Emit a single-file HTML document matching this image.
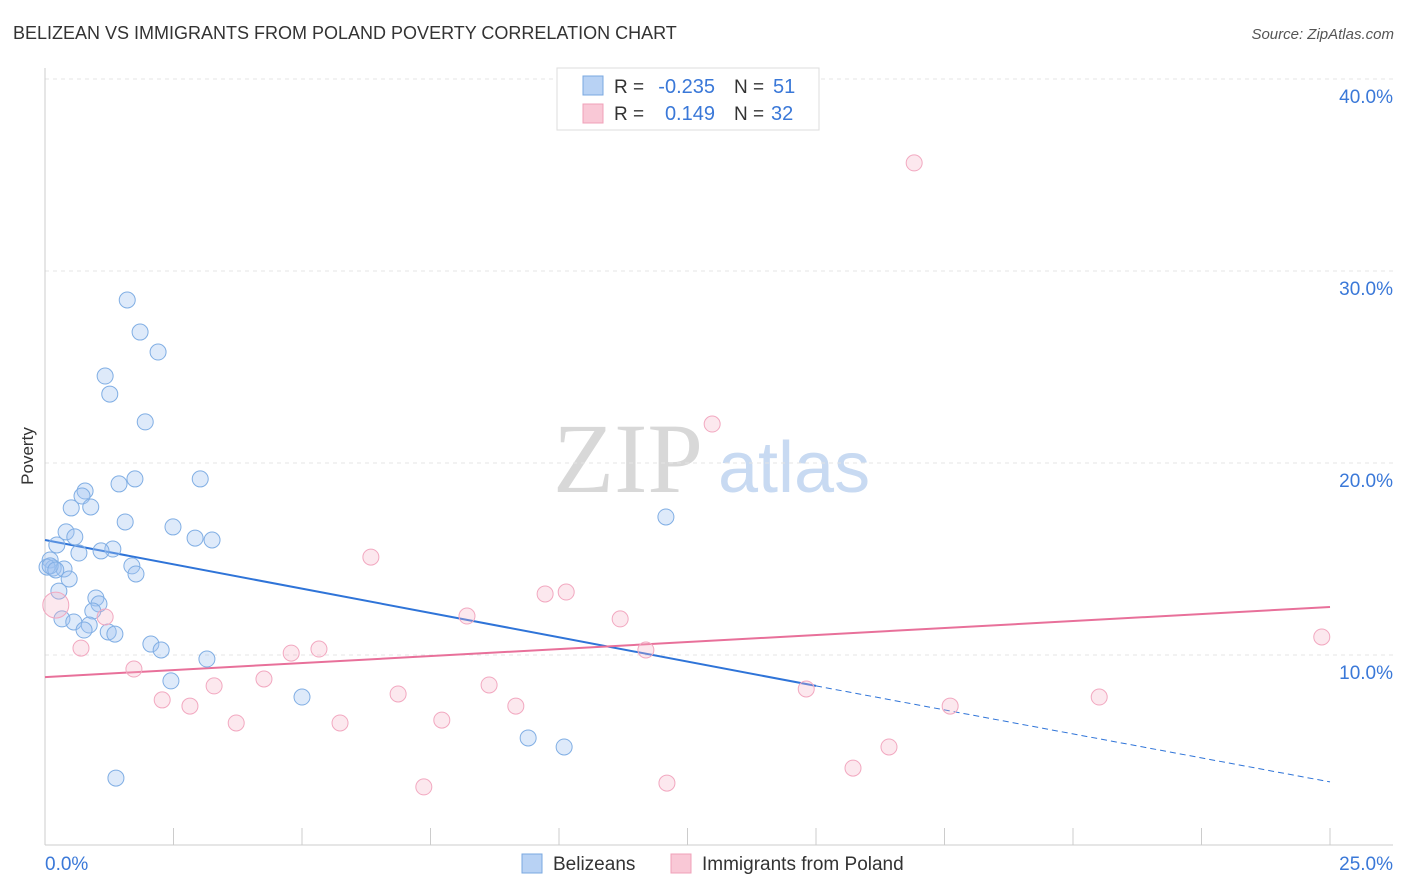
<!DOCTYPE html>
<html><head><meta charset="utf-8">
<style>
body{margin:0;background:#fff;font-family:"Liberation Sans",sans-serif;}
svg{display:block}
</style></head>
<body>
<svg id="chart" width="1406" height="892" viewBox="0 0 1406 892" xmlns="http://www.w3.org/2000/svg">
<text x="13" y="39" font-size="18" fill="#333">BELIZEAN VS IMMIGRANTS FROM POLAND POVERTY CORRELATION CHART</text>
<text x="1394" y="39" font-size="15" fill="#555" font-style="italic" text-anchor="end">Source: ZipAtlas.com</text>
<g>
<text x="553" y="492" font-family="Liberation Serif,serif" font-size="100" fill="#d8d8d8">ZIP</text>
<text x="718" y="492" font-size="72" fill="#c8daf2">atlas</text>
</g>
<g id="grid"></g>
<g id="axes"></g>
<text transform="translate(33,456) rotate(-90)" font-size="17" fill="#333" text-anchor="middle">Poverty</text>
<g id="lines"></g>
<g id="pts"></g>
<g>
<rect x="557" y="68" width="262" height="62" fill="#fff" stroke="#ddd"/>
<rect x="583" y="76" width="20" height="19" fill="#b8d2f4" stroke="#7aa8e0"/>
<rect x="583" y="104" width="20" height="19" fill="#f9c8d6" stroke="#f0a0b8"/>
<text x="614" y="93" font-size="19" fill="#333">R =</text>
<text x="715" y="93" font-size="20" fill="#3a78d8" text-anchor="end">-0.235</text>
<text x="734" y="93" font-size="19" fill="#333">N =</text>
<text x="773" y="93" font-size="20" fill="#3a78d8">51</text>
<text x="614" y="120" font-size="19" fill="#333">R =</text>
<text x="715" y="120" font-size="20" fill="#3a78d8" text-anchor="end">0.149</text>
<text x="734" y="120" font-size="19" fill="#333">N =</text>
<text x="771" y="120" font-size="20" fill="#3a78d8">32</text>
</g>
<g>
<rect x="522" y="854" width="20" height="19" fill="#b8d2f4" stroke="#7aa8e0"/>
<text x="553" y="870" font-size="19" fill="#333">Belizeans</text>
<rect x="671" y="854" width="20" height="19" fill="#f9c8d6" stroke="#f0a0b8"/>
<text x="702" y="870" font-size="19" fill="#333">Immigrants from Poland</text>
</g>
</svg>
<script>
const blueX=[1.60,1.85,2.20,1.17,1.26,1.95,3.02,1.75,1.44,0.78,0.72,0.51,0.89,1.56,2.49,0.41,0.58,2.92,3.25,0.23,1.32,1.09,0.66,0.10,1.69,0.16,0.04,0.37,1.77,0.47,0.27,0.99,1.05,0.93,0.33,0.56,0.86,0.76,1.23,1.36,2.06,2.26,3.15,2.45,5.00,12.08,9.40,10.10,1.38,0.10,0.21];
const blueY=[28.49,26.82,25.78,24.53,23.59,22.14,19.17,19.17,18.91,18.54,18.28,17.66,17.71,16.93,16.67,16.41,16.15,16.09,15.99,15.73,15.52,15.42,15.31,14.95,14.64,14.53,14.58,14.48,14.22,13.96,13.33,12.97,12.66,12.29,11.88,11.72,11.56,11.30,11.20,11.09,10.57,10.26,9.79,8.65,7.81,17.19,5.68,5.21,3.59,14.64,14.43];
const pinkX=[16.91,12.98,6.34,10.14,9.73,8.21,11.19,1.17,0.21,0.70,11.69,5.33,4.79,1.73,4.26,3.29,8.64,24.84,6.87,2.28,2.82,9.16,14.81,17.61,20.51,3.72,5.74,7.72,16.42,15.72,12.10,7.37];
const pinkY=[35.63,22.03,15.10,13.28,13.18,12.03,11.88,11.98,12.60,10.36,10.26,10.31,10.10,9.27,8.75,8.39,8.44,10.94,7.97,7.66,7.34,7.34,8.23,7.34,7.81,6.46,6.46,6.61,5.21,4.11,3.33,3.13];
const blueLine=[15.99,8.39,3.39]; // y at x=0, 15, 25
const pinkLine=[8.85,12.50];      // y at x=0, 25
const yTicks=[10,20,30,40];
const yTickLabels=["10.0%","20.0%","30.0%","40.0%"];
const xTicks=[0,2.5,5,7.5,10,12.5,15,17.5,20,22.5,25];
const NS="http://www.w3.org/2000/svg";
const xs=v=>45+v*51.4, ys=v=>847-v*19.2;
function mk(tag,attrs,parent){const e=document.createElementNS(NS,tag);for(const k in attrs)e.setAttribute(k,attrs[k]);parent.appendChild(e);return e;}
const grid=document.getElementById('grid'),axes=document.getElementById('axes');
yTicks.forEach((t,i)=>{
 const l=mk('line',{x1:45,x2:1393,y1:ys(t),y2:ys(t),stroke:'#e4e4e4','stroke-dasharray':'4,4'},grid);
 
 
 const tx=mk('text',{x:1393,y:ys(t)+24,'font-size':19,fill:'#3a78d8','text-anchor':'end'},axes);
 tx.textContent=yTickLabels[i];
 
 
});
mk('line',{x1:45,x2:45,y1:68,y2:845,stroke:'#ccc'},axes);
mk('line',{x1:45,x2:1393,y1:845,y2:845,stroke:'#ccc'},axes);
xTicks.forEach(t=>{
 const l=mk('line',{x1:xs(t),x2:xs(t),y1:828,y2:845,stroke:'#ccc'},axes);
 
 
});
const x0=mk('text',{x:45,y:870,'font-size':19,fill:'#3a78d8'},axes);x0.textContent='0.0%';


const x1=mk('text',{x:1393,y:870,'font-size':19,fill:'#3a78d8','text-anchor':'end'},axes);x1.textContent='25.0%';


const pts=document.getElementById('pts');
blueX.forEach((v,i)=>{
 const c=mk('circle',{cx:xs(v),cy:ys(blueY[i]),r:8,fill:'rgba(160,196,240,0.35)',stroke:'#80aee4','stroke-width':1},pts);
 
 
});
pinkX.forEach((v,i)=>{
 const c=mk('circle',{cx:xs(v),cy:ys(pinkY[i]),r:i===8?13:8,fill:'rgba(246,180,200,0.3)',stroke:'#f2a8c0','stroke-width':1},pts);
 
 
});
const lines=document.getElementById('lines');
const b1=mk('line',{x1:xs(0),y1:ys(blueLine[0]),x2:xs(15),y2:ys(blueLine[1]),stroke:'#2f74d8','stroke-width':2},lines);


const b2=mk('line',{x1:xs(15),y1:ys(blueLine[1]),x2:xs(25),y2:ys(blueLine[2]),stroke:'#2f74d8','stroke-width':1,'stroke-dasharray':'6,4'},lines);


const p1=mk('line',{x1:xs(0),y1:ys(pinkLine[0]),x2:xs(25),y2:ys(pinkLine[1]),stroke:'#e8709a','stroke-width':2},lines);


</script>
</body></html>
